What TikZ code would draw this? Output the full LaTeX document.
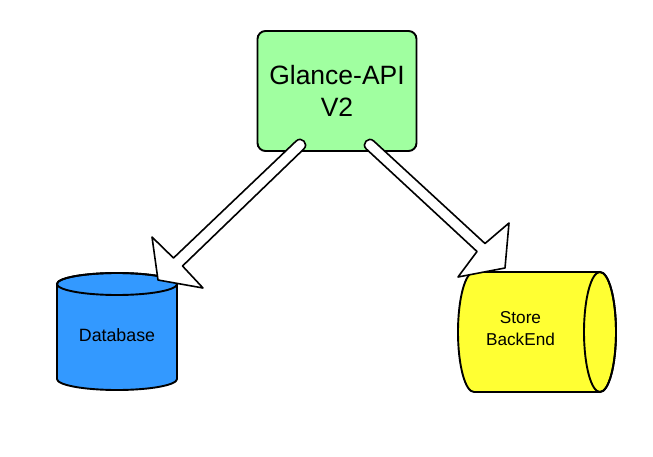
\documentclass[tikz,border=0pt]{standalone}
\usepackage{fontspec}
\setmainfont{Liberation Sans}
\begin{document}
\begin{tikzpicture}[x=1pt,y=-1pt,
  shapeline/.style={draw=black, line width=1.9pt},
  fatarrow/.style={draw=black, fill=white, line width=1.6pt, line join=round},
  lbl/.style={inner sep=0pt, align=center}
]
\definecolor{apigreen}{HTML}{A0FFA0}
\definecolor{dbblue}{HTML}{3399FF}
\definecolor{storeyellow}{HTML}{FFFF33}
\useasboundingbox[fill=white] (0,0) rectangle (653,457);

% Glance-API box
\node[shapeline, fill=apigreen, rounded corners=8pt, minimum width=159pt, minimum height=120pt,
      align=center, font=\fontsize{26.5}{31.5}\selectfont, inner sep=0pt] (api) at (337,91) {Glance-API\\V2};

% Database cylinder
\filldraw[shapeline, fill=dbblue] (57,284) -- (57,379)
  arc[start angle=180, end angle=360, x radius=60pt, y radius=11pt] -- (177,284)
  arc[start angle=0, end angle=180, x radius=60pt, y radius=11pt] -- cycle;
\draw[shapeline] (117,284) ellipse [x radius=60pt, y radius=11pt];
\node[lbl, font=\fontsize{17.8}{21}\selectfont] (db) at (117,335) {Database};

% Store BackEnd horizontal cylinder
\filldraw[shapeline, fill=storeyellow] (474,272) -- (600,272)
  arc[start angle=90, end angle=-90, x radius=16pt, y radius=60pt] -- (474,392)
  arc[start angle=270, end angle=90, x radius=16pt, y radius=60pt] -- cycle;
\draw[shapeline] (600,332) ellipse [x radius=16pt, y radius=60pt];
\node[lbl, font=\fontsize{17.2}{22}\selectfont] (store) at (520.5,329) {Store\\BackEnd};

% Fat arrows (drawn on top)
\filldraw[fatarrow] (296.2,141.0) -- (173.5,258) -- (152,237) -- (158,280) -- (203,288) -- (182.5,266)
  -- (303.8,149.0) .. controls (309.1,143.9) and (301.5,135.9) .. (296.2,141.0) -- cycle;
\filldraw[fatarrow] (373.7,141.0) -- (485,243.5) -- (509,223) -- (505,268) -- (458,277) -- (477,251.5)
  -- (366.3,149.0) .. controls (360.9,144.0) and (368.3,136.0) .. (373.7,141.0) -- cycle;
\end{tikzpicture}
\end{document}
